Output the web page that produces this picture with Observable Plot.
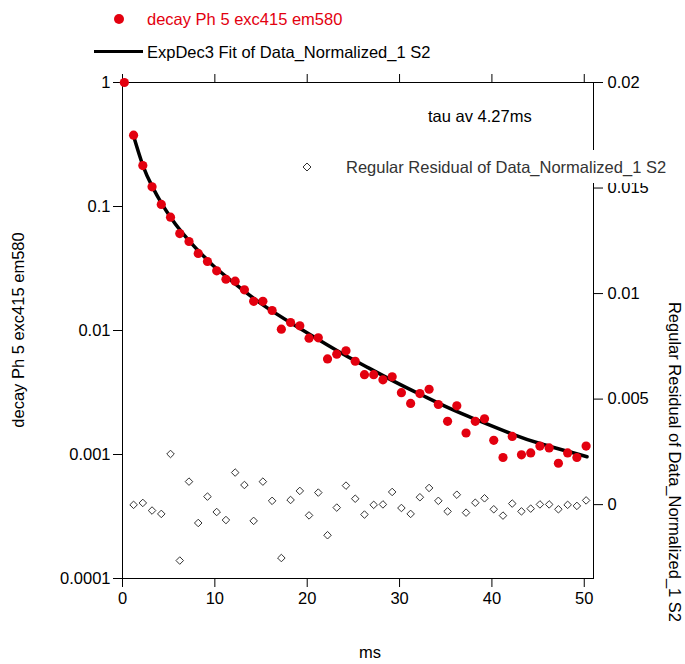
<!DOCTYPE html>
<html>
<head>
<meta charset="utf-8">
<script src="https://cdn.jsdelivr.net/npm/d3@7"></script>
<script src="https://cdn.jsdelivr.net/npm/@observablehq/plot@0.6"></script>
<style>
  html, body { margin: 0; padding: 0; background: #fff; }
  #wrap { position: relative; width: 685px; height: 664px; font-family: "Liberation Sans", Arial, sans-serif; font-size: 16.5px; color: #000; }
  #wrap svg { position: absolute; left: 0; top: 0; }
  .abs { position: absolute; white-space: nowrap; line-height: 20px; }
</style>
</head>
<body>
<div id="wrap"></div>
<script>
// ---- data ----
const decayTime = [0.2,1.2,2.2,3.2,4.2,5.2,6.2,7.2,8.2,9.2,10.2,11.2,12.2,13.2,14.2,15.2,16.2,17.2,18.2,19.2,20.2,21.2,22.2,23.2,24.2,25.2,26.2,27.2,28.2,29.2,30.2,31.2,32.2,33.2,34.2,35.2,36.2,37.2,38.2,39.2,40.2,41.2,42.2,43.2,44.2,45.2,46.2,47.2,48.2,49.2,50.2];
const decayValue = [1.0,0.376,0.214,0.144,0.104,0.082,0.0605,0.0522,0.0418,0.036,0.0303,0.0259,0.025,0.0213,0.0172,0.0172,0.0145,0.01025,0.0116,0.0109,0.00867,0.00873,0.0059,0.00644,0.00686,0.00565,0.0044,0.0044,0.0040,0.00423,0.00315,0.00258,0.0031,0.00336,0.00253,0.00185,0.00247,0.00149,0.00185,0.00194,0.0013,0.000946,0.0014,0.000994,0.00103,0.00117,0.00113,0.00085,0.00103,0.000946,0.00117];

const fitTime  = [1.2,2.2,3.2,4.2,5.2,6.2,7.2,8.2,9.2,10.2,12.2,15.0,18.6,23.3,25.8,29.4,32.5,35.5,38.3,42.2,45.3,50.3];
const fitValue = [0.37,0.215,0.146,0.107,0.082,0.065,0.053,0.044,0.037,0.0315,0.0238,0.01648,0.01109,0.00684,0.0054,0.00389,0.00299,0.00234,0.00191,0.00146,0.00122,0.00096];

const residTime = [1.2,2.2,3.2,4.2,5.2,6.2,7.2,8.2,9.2,10.2,11.2,12.2,13.2,14.2,15.2,16.2,17.2,18.2,19.2,20.2,21.2,22.2,23.2,24.2,25.2,26.2,27.2,28.2,29.2,30.2,31.2,32.2,33.2,34.2,35.2,36.2,37.2,38.2,39.2,40.2,41.2,42.2,43.2,44.2,45.2,46.2,47.2,48.2,49.2,50.2];
const residValue = [-0.00001,0.00008,-0.00028,-0.00044,0.0024,-0.00265,0.00109,-0.00087,0.00038,-0.00035,-0.00073,0.00152,0.00093,-0.00077,0.00109,0.00018,-0.00253,0.00022,0.00065,-0.00051,0.00057,-0.00145,-0.00014,0.0009,0.00028,-0.00047,-0.00001,0.00001,0.0006,-0.00016,-0.00044,0.00035,0.00079,0.00018,-0.00032,0.00047,-0.00038,0.00009,0.0003,-0.00022,-0.00052,0.00005,-0.00032,-0.00019,0.00001,0.00001,-0.00022,-0.00001,-0.00006,0.0002];

const xTicks = [0,10,20,30,40,50];
const yLeftTicks = [0.0001,0.001,0.01,0.1,1];
const yLeftTickLabels = ["0.0001","0.001","0.01","0.1","1"];
const yRightTicks = [0,0.005,0.01,0.015,0.02];
const yRightTickLabels = ["0","0.005","0.01","0.015","0.02"];

const decayName = "decay Ph 5 exc415 em580";
const fitName = "ExpDec3 Fit of Data_Normalized_1 S2";
const residName = "Regular Residual of Data_Normalized_1 S2";
const xLabel = "ms";
const annotation = "tau av 4.27ms";

// ---- tables ----
const decay = decayTime.map((t, i) => ({t, v: decayValue[i]}));
const fit = fitTime.map((t, i) => ({t, v: fitValue[i]}));
const resid = residTime.map((t, i) => ({t, v: residValue[i]}));

const common = {
  width: 685, height: 664,
  marginLeft: 122, marginRight: 92, marginTop: 82, marginBottom: 86,
  style: {fontFamily: '"Liberation Sans", Arial, sans-serif', fontSize: "16.5px", background: "transparent", color: "#000", overflow: "visible"}
};

const p1 = Plot.plot({
  ...common,
  x: {domain: [0, 51], axis: null},
  y: {type: "log", domain: [1e-4, 1], axis: null},
  marks: [
    Plot.frame({stroke: "#000", strokeWidth: 1}),
    Plot.axisX({ticks: xTicks, tickSize: 9, tickPadding: 5, label: null}),
    Plot.axisX({anchor: "top", ticks: xTicks, tickSize: 9, tickFormat: () => "", label: null}),
    Plot.axisY({ticks: yLeftTicks, tickSize: 9, tickPadding: 3, label: null,
      tickFormat: d => yLeftTickLabels[yLeftTicks.indexOf(d)]}),
    Plot.line(fit, {x: "t", y: "v", stroke: "#000", strokeWidth: 3.5, curve: "natural"}),
    Plot.dot(decay, {x: "t", y: "v", r: 4.6, fill: "#e3000f", stroke: "none"})
  ]
});

const p2 = Plot.plot({
  ...common,
  x: {domain: [0, 51], axis: null},
  y: {domain: [-0.0035, 0.02], axis: null},
  marks: [
    Plot.axisY({anchor: "right", ticks: yRightTicks, tickSize: 9, tickPadding: 5, label: null,
      tickFormat: d => yRightTickLabels[yRightTicks.indexOf(d)]}),
    Plot.dot(resid, {x: "t", y: "v", symbol: "diamond2", r: 3.4, stroke: "#333", strokeWidth: 1, fill: "#fff"})
  ]
});

const wrap = document.getElementById("wrap");
wrap.appendChild(p1);
wrap.appendChild(p2);

function addDiv(html, css) {
  const d = document.createElement("div");
  d.className = "abs";
  d.innerHTML = html;
  Object.assign(d.style, css);
  wrap.appendChild(d);
  return d;
}

// top legend
addDiv("", {left: "114px", top: "14px", width: "10px", height: "10px", borderRadius: "50%", background: "#e3000f"});
addDiv(decayName, {left: "147px", top: "9px", color: "#e3000f"});
addDiv("", {left: "94px", top: "50px", width: "49px", height: "3px", background: "#000"});
addDiv(fitName, {left: "147px", top: "42px", color: "#000"});

// annotation
addDiv(annotation, {left: "428px", top: "106px"});

// residual legend with white box
const box = addDiv("", {left: "298px", top: "150px", width: "384px", height: "33px", background: "#fff"});
box.innerHTML = '<svg width="12" height="12" style="position:absolute;left:3px;top:11px"><path d="M6 2 L10 6 L6 10 L2 6 Z" fill="#fff" stroke="#333" stroke-width="1"/></svg>' +
  '<span style="position:absolute;left:48px;top:7px;color:#333">' + residName + '</span>';

// axis titles
addDiv(decayName, {left: "18px", top: "330px", transform: "translate(-50%,-50%) rotate(-90deg)"});
addDiv(residName, {left: "675px", top: "462px", transform: "translate(-50%,-50%) rotate(90deg)"});
addDiv(xLabel, {left: "370px", top: "652px", transform: "translate(-50%,-50%)"});
</script>
</body>
</html>
